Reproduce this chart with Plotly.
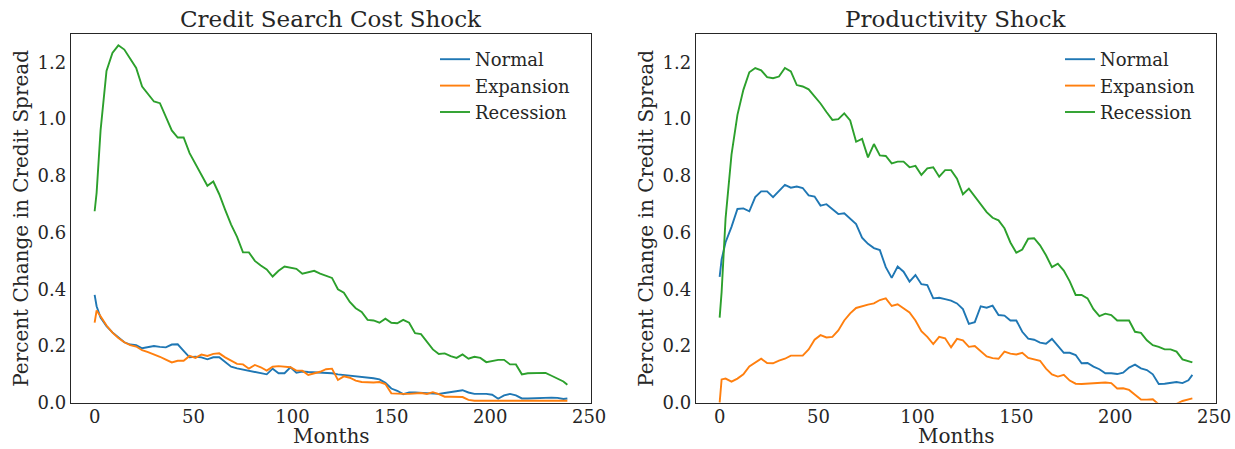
import plotly.graph_objects as go

# Horizon in months: first two months, then every third month, then the final month
months = [0, 1] + list(range(3, 238, 3)) + [239]

series_names = ["Normal", "Expansion", "Recession"]
series_colors = ["#1f77b4", "#ff7f0e", "#2ca02c"]

# Credit search cost shock: percent change in credit spread
credit_normal = [
    0.38, 0.34, 0.30, 0.27, 0.248, 0.23, 0.213, 0.205, 0.203, 0.192,
    0.197, 0.2, 0.197, 0.195, 0.205, 0.206, 0.183, 0.16, 0.162, 0.16,
    0.153, 0.16, 0.16, 0.142, 0.127, 0.121, 0.117, 0.112, 0.109, 0.104,
    0.10, 0.12, 0.104, 0.104, 0.125, 0.106, 0.11, 0.108, 0.107, 0.106,
    0.105, 0.104, 0.10, 0.098, 0.096, 0.093, 0.09, 0.088, 0.086, 0.082,
    0.07, 0.05, 0.042, 0.03, 0.036, 0.036, 0.035, 0.034, 0.032, 0.031,
    0.034, 0.037, 0.041, 0.044, 0.036, 0.031, 0.031, 0.031, 0.028, 0.014,
    0.026, 0.031, 0.026, 0.015, 0.015, 0.016, 0.017, 0.018, 0.018, 0.017,
    0.013, 0.015,
]
credit_expansion = [
    0.282, 0.325, 0.305, 0.272, 0.247, 0.228, 0.213, 0.203, 0.198, 0.185,
    0.178, 0.171, 0.162, 0.152, 0.142, 0.148, 0.148, 0.165, 0.158, 0.17,
    0.165, 0.172, 0.174, 0.16, 0.148, 0.137, 0.135, 0.12, 0.133, 0.125,
    0.113, 0.127, 0.129, 0.128, 0.125, 0.113, 0.113, 0.098, 0.104, 0.109,
    0.118, 0.12, 0.08, 0.093, 0.088, 0.078, 0.073, 0.071, 0.071, 0.073,
    0.066, 0.033, 0.031, 0.031, 0.031, 0.032, 0.034, 0.031, 0.037, 0.03,
    0.021, 0.021, 0.021, 0.02, 0.01, 0.007, 0.007, 0.007, 0.007, 0.007,
    0.007, 0.007, 0.007, 0.007, 0.007, 0.007, 0.007, 0.007, 0.007, 0.007,
    0.007, 0.007,
]
credit_recession = [
    0.675, 0.74, 0.96, 1.17, 1.233, 1.26, 1.245, 1.21, 1.18, 1.115,
    1.088, 1.062, 1.056, 1.01, 0.96, 0.935, 0.935, 0.88, 0.84, 0.80,
    0.765, 0.78, 0.735, 0.68, 0.628, 0.585, 0.53, 0.53, 0.50, 0.484,
    0.47, 0.445, 0.465, 0.48, 0.475, 0.472, 0.455, 0.46, 0.465, 0.455,
    0.448, 0.44, 0.40, 0.388, 0.355, 0.333, 0.32, 0.292, 0.29, 0.282,
    0.296, 0.282, 0.28, 0.292, 0.282, 0.245, 0.242, 0.214, 0.188, 0.172,
    0.174, 0.164, 0.158, 0.17, 0.155, 0.162, 0.158, 0.143, 0.147, 0.151,
    0.151, 0.135, 0.135, 0.10, 0.104, 0.104, 0.105, 0.105, 0.095, 0.086,
    0.075, 0.063,
]

# Productivity shock: percent change in credit spread
prod_normal = [
    0.444, 0.505, 0.566, 0.62, 0.683, 0.685, 0.675, 0.725, 0.745, 0.745,
    0.725, 0.745, 0.768, 0.758, 0.762, 0.757, 0.731, 0.727, 0.695, 0.70,
    0.682, 0.665, 0.668, 0.649, 0.63, 0.582, 0.56, 0.545, 0.538, 0.478,
    0.44, 0.48, 0.462, 0.427, 0.45, 0.418, 0.415, 0.368, 0.37, 0.365,
    0.36, 0.35, 0.33, 0.278, 0.284, 0.34, 0.335, 0.342, 0.309, 0.307,
    0.29, 0.29, 0.25, 0.226, 0.222, 0.212, 0.208, 0.225, 0.2, 0.176,
    0.176, 0.168, 0.139, 0.14, 0.127, 0.118, 0.104, 0.104, 0.101, 0.106,
    0.124, 0.134, 0.121, 0.115, 0.1, 0.066, 0.067, 0.071, 0.073, 0.069,
    0.079, 0.098,
]
prod_expansion = [
    0.0, 0.082, 0.085, 0.074, 0.085, 0.10, 0.128, 0.14, 0.155, 0.14,
    0.139, 0.148, 0.155, 0.166, 0.165, 0.166, 0.188, 0.222, 0.238, 0.23,
    0.232, 0.255, 0.29, 0.315, 0.334, 0.341, 0.346, 0.35, 0.362, 0.368,
    0.341, 0.347, 0.332, 0.318, 0.29, 0.252, 0.232, 0.207, 0.232, 0.227,
    0.195, 0.225, 0.22, 0.197, 0.2, 0.18, 0.163, 0.157, 0.155, 0.18,
    0.173, 0.17, 0.176, 0.158, 0.152, 0.148, 0.12, 0.10, 0.092, 0.098,
    0.078, 0.067, 0.066, 0.067, 0.069, 0.071, 0.071, 0.069, 0.05, 0.051,
    0.045, 0.028, 0.011, 0.011, 0.012, -0.006, -0.01, -0.01, -0.004, 0.006,
    0.012, 0.015,
]
prod_recession = [
    0.30, 0.39, 0.65, 0.875, 1.015, 1.103, 1.165, 1.18, 1.172, 1.148,
    1.144, 1.15, 1.18, 1.168, 1.12, 1.115, 1.105, 1.08, 1.055, 1.025,
    0.997, 1.0, 1.02, 0.995, 0.92, 0.93, 0.865, 0.912, 0.872, 0.87,
    0.844, 0.85, 0.85, 0.83, 0.835, 0.803, 0.826, 0.83, 0.797, 0.82,
    0.82, 0.79, 0.735, 0.755, 0.728, 0.697, 0.672, 0.652, 0.643, 0.615,
    0.565, 0.529, 0.54, 0.578, 0.58, 0.555, 0.52, 0.478, 0.49, 0.466,
    0.428, 0.38, 0.38, 0.368, 0.33, 0.305, 0.314, 0.309, 0.29, 0.29,
    0.29, 0.25, 0.246, 0.22, 0.203, 0.197, 0.188, 0.188, 0.18, 0.153,
    0.147, 0.142,
]

panel_titles = ["Credit Search Cost Shock", "Productivity Shock"]
x_title = "Months"
y_title = "Percent Change in Credit Spread"
panels = [
    [credit_normal, credit_expansion, credit_recession],
    [prod_normal, prod_expansion, prod_recession],
]

x_ticks = [0, 50, 100, 150, 200, 250]
y_ticks = [0.0, 0.2, 0.4, 0.6, 0.8, 1.0, 1.2]

FONT = "DejaVu Serif"
INK = "#262626"
W, H = 1235, 449

# axes boxes in pixels: (left, right), shared vertical extent
x_boxes = [(71, 591), (696, 1216)]
y_box = (34, 402.7)

fig = go.Figure()
for i, panel in enumerate(panels):
    suffix = "" if i == 0 else str(i + 1)
    for name, color, values in zip(series_names, series_colors, panel):
        fig.add_trace(go.Scatter(
            x=months, y=values, mode="lines", name=name,
            line=dict(color=color, width=1.9),
            xaxis="x" + suffix, yaxis="y" + suffix,
            legend="legend" + suffix,
        ))

layout = dict(
    width=W, height=H,
    margin=dict(l=0, r=0, t=0, b=0),
    paper_bgcolor="white", plot_bgcolor="white",
    font=dict(family=FONT, color=INK, size=18),
    showlegend=True,
    annotations=[],
)

for i in range(2):
    suffix = "" if i == 0 else str(i + 1)
    left, right = x_boxes[i]
    xdom = [left / W, right / W]
    ydom = [1 - y_box[1] / H, 1 - y_box[0] / H]
    axis_common = dict(
        showline=True, mirror=True, linecolor=INK, linewidth=1.3,
        ticks="", showgrid=False, zeroline=False, automargin=False,
        tickfont=dict(family=FONT, size=18, color=INK),
    )
    layout["xaxis" + suffix] = dict(
        axis_common, domain=xdom, range=[-11.95, 250.95],
        tickvals=x_ticks, anchor="y" + suffix, ticklabelstandoff=-2,
    )
    layout["yaxis" + suffix] = dict(
        axis_common, domain=ydom, range=[0, 1.3],
        tickvals=y_ticks, tickformat=".1f", anchor="x" + suffix,
        title=dict(text=y_title, font=dict(family=FONT, size=20, color=INK), standoff=3),
    )
    layout["legend" + suffix] = dict(
        x=(right - 156) / W, xanchor="left",
        y=1 - 41 / H, yanchor="top",
        bgcolor="rgba(0,0,0,0)", borderwidth=0,
        font=dict(family=FONT, size=18, color=INK),
    )
    # panel title
    layout["annotations"].append(dict(
        text=panel_titles[i], showarrow=False,
        xref="paper", yref="paper",
        x=(left + right) / 2 / W, y=1 - 19 / H,
        xanchor="center", yanchor="middle",
        font=dict(family=FONT, size=23, color=INK),
    ))
    # horizontal axis label under the panel, resting on the bottom edge
    layout["annotations"].append(dict(
        text=x_title, showarrow=False,
        xref="paper", yref="paper",
        x=(left + right) / 2 / W, y=0,
        xanchor="center", yanchor="bottom", borderpad=0,
        font=dict(family=FONT, size=20, color=INK),
    ))

fig.update_layout(**layout)
fig.write_html("out.html")
